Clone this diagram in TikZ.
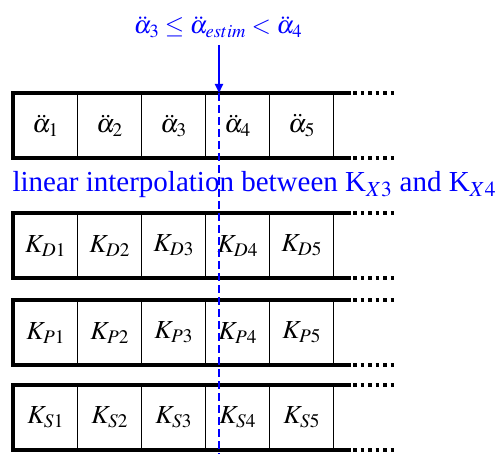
\documentclass[tikz,border=0pt]{standalone}
\usepackage{mathptmx}
\usepackage{fontspec}
\setmainfont{Liberation Serif}
\usetikzlibrary{arrows.meta, calc}

\begin{document}
\begin{tikzpicture}[
        x=1pt, y=-1pt,
        cell/.style={draw, line width=1.2pt, minimum width=64pt, minimum height=64pt, inner sep=0pt, anchor=north west, font=\fontsize{26}{28}\selectfont},
        frame/.style={line width=3.5pt, line join=miter},
        more/.style={line width=3.5pt, dash pattern=on 3.5pt off 4pt},
        arrow/.style={-{Triangle[length=9pt, width=8pt]}, blue, line width=2pt},
        cut/.style={blue, line width=2.5pt, dash pattern=on 8pt off 4pt},
        note/.style={blue, font=\fontsize{25}{28}\selectfont}
    ]
    \useasboundingbox (0,0) rectangle (502,454);

    % Table of accelerations
    \foreach \i in {1,...,5} {
        \pgfmathsetmacro{\x}{13+64*(\i-1)}
        \node[cell] (a\i) at (\x,93) {$\ddot{\alpha}_{\i}$};
    }

    % Gain tables
    \foreach \row/\top/\sym in {d/213/D, p/300/P, s/385/S} {
        \foreach \i in {1,...,5} {
            \pgfmathsetmacro{\x}{13+64*(\i-1)}
            \node[cell] (\row\i) at (\x,\top) {$K_{\sym\i}$};
        }
    }

    % Thick borders and open ends
    \foreach \row in {a, d, p, s} {
        \draw[frame] ($(\row5.north east)+(17,0)$) -- (\row1.north west) -- (\row1.south west) -- ($(\row5.south east)+(17,0)$);
        \draw[more] ($(\row5.north east)+(19,0)$) -- ++(41,0);
        \draw[more] ($(\row5.south east)+(19,0)$) -- ++(41,0);
    }

    % Labels
    \node[note] (cond) at (218,27) {$\ddot{\alpha}_3 \le \ddot{\alpha}_{estim} < \ddot{\alpha}_4$};
    \node[note, anchor=west, font=\fontsize{29}{32}\selectfont] (interp) at (9,185) {linear interpolation between K$_{X3}$ and K$_{X4}$};

    % Estimated value
    \coordinate (hit) at ($(a4.north west)+(14,0)$);
    \coordinate (foot) at (hit |- 0,454);
    \draw[arrow] ($(cond.south -| hit)+(0,4)$) -- (hit);
    \draw[cut] (hit) -- (foot);

\end{tikzpicture}
\end{document}
